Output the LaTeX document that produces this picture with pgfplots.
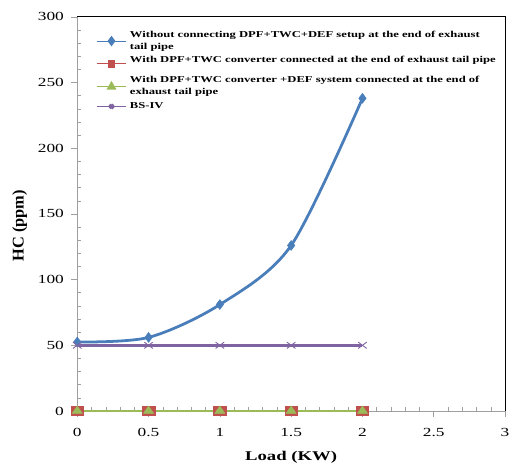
\documentclass[border=0pt]{standalone}
\usepackage{pgfplots}
\pgfplotsset{compat=1.18}
\usepackage{fontspec}
\setmainfont[FakeStretch=1.4]{Liberation Serif}
\newfontfamily\ylabfont{Liberation Serif}
\definecolor{cblue}{RGB}{74,126,187}
\definecolor{cred}{RGB}{192,80,77}
\definecolor{cgreen}{RGB}{155,187,89}
\definecolor{cpurple}{RGB}{128,100,162}
\begin{document}
\begin{tikzpicture}
\begin{axis}[
  name=ax,
  scale only axis,
  width=432pt, height=398pt,
  xmin=0, xmax=3, ymin=0, ymax=300,
  xtick={0,0.5,...,3}, ytick={0,50,...,300},
  minor x tick num=4, minor y tick num=4,
  axis x line*=bottom, axis y line*=left,
  axis line style={gray!75, line width=0.8pt},
  major tick style={gray!75, line width=0.6pt},
  minor tick style={gray!75, line width=0.5pt},
  major tick length=6pt, minor tick length=4pt,
  xtick align=outside, ytick align=outside,
  minor x tick style={yshift=4pt},
  minor y tick style={xshift=4pt},
  tick label style={font=\fontsize{12.5}{14}\selectfont},
  xticklabel style={yshift=-8pt},
  yticklabel style={xshift=-4pt},
  /pgf/number format/assume math mode=true,
  xlabel={\textbf{Load (KW)}}, ylabel={\ylabfont\bfseries HC (ppm)},
  label style={font=\fontsize{13.5}{15}\selectfont},
  ylabel style={font=\fontsize{16.5}{18}\selectfont, yshift=4pt, xshift=-12pt},
  xlabel style={yshift=-8pt},
  legend cell align=left,
  legend style={draw=none, fill=none, at={(rel axis cs:0,1)}, anchor=north west,
    xshift=19pt, yshift=-12.5pt, inner sep=0pt, outer sep=0pt,
    font=\bfseries\fontsize{9.1}{12}\selectfont, cells={align=left},
    nodes={inner sep=0pt, outer sep=0pt, text depth={}}, row sep=2pt, column sep=3pt},
  legend image code/.code={\draw[#1, line width=1.2pt] (0pt,0pt) -- (30pt,0pt); \draw[#1, only marks, mark options={scale=0.6}] plot coordinates {(15pt,0pt)};},
  clip=false,
]
\addplot[cblue, line width=2.8pt, smooth, tension=0.5, mark=diamond*, mark size=5pt, mark options={solid, line width=0.5pt}]
  coordinates {(0,52.5) (0.5,56) (1,81) (1.5,126) (2,238)};
\addlegendentry{\rule{0pt}{8pt}Without connecting DPF+TWC+DEF setup at the end of exhaust\\tail pipe\rule[-4pt]{0pt}{4pt}}
\addplot[cred, line width=2.6pt, mark=square*, mark size=4.5pt, mark options={solid, line width=0.5pt, xscale=1.4}]
  coordinates {(0,0) (0.5,0) (1,0) (1.5,0) (2,0)};
\addlegendentry{\rule{0pt}{8pt}With DPF+TWC converter connected at the end of exhaust tail pipe\rule[-10pt]{0pt}{10pt}}
\addplot[cgreen, line width=2.8pt, mark=triangle*, mark size=5pt, mark options={solid, line width=0.5pt, xscale=1.2}]
  coordinates {(0,0) (0.5,0) (1,0) (1.5,0) (2,0)};
\addlegendentry{\rule{0pt}{8pt}With DPF+TWC converter +DEF system connected at the end of\\exhaust tail pipe\rule[-4pt]{0pt}{4pt}}
\addplot[cpurple, line width=2.6pt, mark=x, mark size=4.5pt, mark options={solid, line width=0.9pt, xscale=1.35}]
  coordinates {(0,50) (0.5,50) (1,50) (1.5,50) (2,50)};
\addlegendentry{\rule{0pt}{8pt}BS-IV\rule[-4pt]{0pt}{4pt}}
\draw[black, line width=0.8pt] (rel axis cs:0,1) -- (rel axis cs:1,1) -- (rel axis cs:1,0);
\end{axis}
\pgfresetboundingbox
\path ([shift={(-78pt,-53pt)}]ax.south west) rectangle ([shift={(7pt,17pt)}]ax.north east);
\end{tikzpicture}
\end{document}
